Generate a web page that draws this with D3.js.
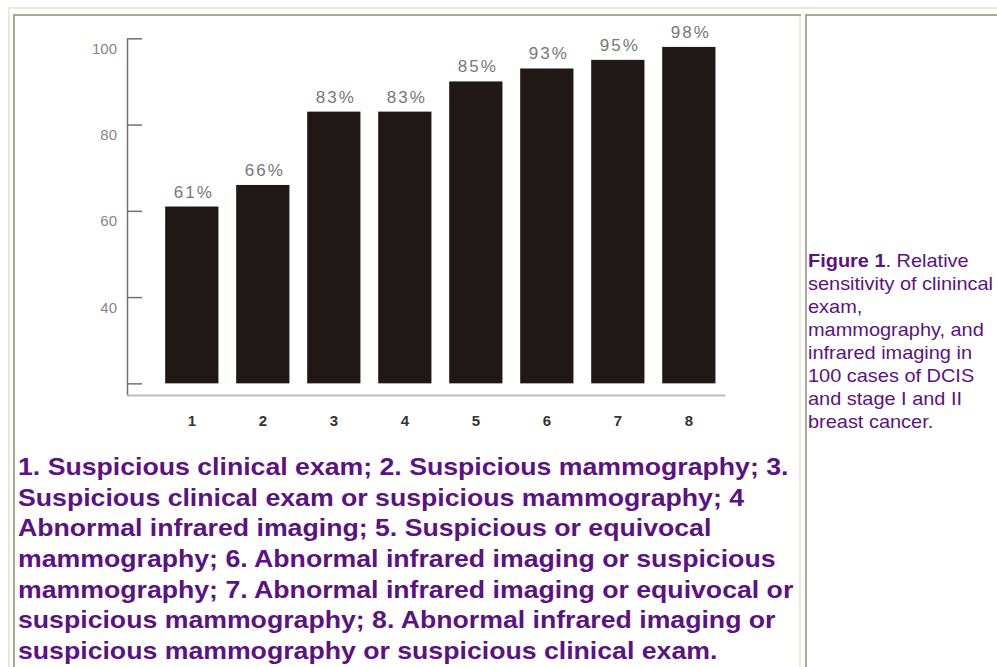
<!DOCTYPE html>
<html>
<head>
<meta charset="utf-8">
<script src="https://cdn.jsdelivr.net/npm/d3@7"></script>
<style>
body { margin: 0; background: #fff; }
svg { display: block; font-family: "Liberation Sans", Arial, sans-serif; }
</style>
</head>
<body>
<svg id="page" width="997" height="667"></svg>
<script>
var CATEGORIES = ['1', '2', '3', '4', '5', '6', '7', '8'];
var VALUES = [61, 66, 83, 83, 90, 93, 95, 98];
var VALUE_LABELS = ['61%', '66%', '83%', '83%', '85%', '93%', '95%', '98%'];
var Y_TICKS = [20, 40, 60, 80, 100];
var BASE = 20;

var LEGEND_LINES = [
  '1. Suspicious clinical exam; 2. Suspicious mammography; 3.',
  'Suspicious clinical exam or suspicious mammography; 4',
  'Abnormal infrared imaging; 5. Suspicious or equivocal',
  'mammography; 6. Abnormal infrared imaging or suspicious',
  'mammography; 7. Abnormal infrared imaging or equivocal or',
  'suspicious mammography; 8. Abnormal infrared imaging or',
  'suspicious mammography or suspicious clinical exam.'
];
var CAPTION_TITLE = 'Figure 1';
var CAPTION_LINES = [
  '. Relative',
  'sensitivity of clinincal',
  'exam,',
  'mammography, and',
  'infrared imaging in',
  '100 cases of DCIS',
  'and stage I and II',
  'breast cancer.'
];

var PURPLE = '#5b1283';
var DARK_BORDER = '#aca899';
var LIGHT_BORDER = '#ece9d8';

var svg = d3.select('#page');

// table borders (outset table, inset cells)
function hline(x1, x2, y, color) {
  svg.append('rect').attr('x', x1).attr('y', y).attr('width', x2 - x1).attr('height', 2).attr('fill', color);
}
function vline(x, y1, y2, color) {
  svg.append('rect').attr('x', x).attr('y', y1).attr('width', 2).attr('height', y2 - y1).attr('fill', color);
}
hline(8, 997, 7, LIGHT_BORDER);
vline(8, 7, 667, LIGHT_BORDER);
hline(13, 801, 14, DARK_BORDER);
vline(13, 14, 667, DARK_BORDER);
vline(799, 16, 667, LIGHT_BORDER);
hline(805, 997, 14, DARK_BORDER);
vline(805, 14, 667, DARK_BORDER);

// chart
var x = d3.scaleBand()
  .domain(CATEGORIES)
  .range([127, 725])
  .paddingInner(0.25)
  .paddingOuter(0.336)
  .align(0.8);

var y = d3.scaleLinear()
  .domain([17.3, 100])
  .range([395, 38.3]);

var chart = svg.append('g');

chart.selectAll('.bar')
  .data(VALUES)
  .enter().append('rect')
  .attr('class', 'bar')
  .attr('x', function (d, i) { return x(CATEGORIES[i]); })
  .attr('y', function (d) { return y(d); })
  .attr('width', x.bandwidth())
  .attr('height', function (d) { return y(BASE) - y(d); })
  .attr('fill', '#201817');

chart.selectAll('.pct')
  .data(VALUES)
  .enter().append('text')
  .attr('class', 'pct')
  .attr('x', function (d, i) { return x(CATEGORIES[i]) + x.bandwidth() / 2 + 2; })
  .attr('y', function (d) { return y(d) - 9; })
  .attr('text-anchor', 'middle')
  .attr('font-size', 17)
  .attr('letter-spacing', 2)
  .attr('fill', '#7a7676')
  .text(function (d, i) { return VALUE_LABELS[i]; });

var yAxis = chart.append('g')
  .attr('transform', 'translate(' + x.range()[0] + ',0)')
  .call(d3.axisLeft(y)
    .tickValues(Y_TICKS)
    .tickSizeInner(-15)
    .tickSizeOuter(0)
    .tickPadding(10)
    .tickFormat(function (d) { return d === BASE ? '' : d; }));

yAxis.select('.domain').attr('stroke', '#776e6e').attr('stroke-width', 1.5);
yAxis.selectAll('.tick line').attr('stroke', '#776e6e').attr('stroke-width', 1.5);
yAxis.selectAll('.tick text')
  .attr('font-size', 15)
  .attr('font-family', '"Liberation Sans", Arial, sans-serif')
  .attr('fill', '#8a8484')
  .attr('dy', '1em');

var xAxis = chart.append('g')
  .attr('transform', 'translate(0,' + y.range()[0] + ')')
  .call(d3.axisBottom(x).tickSize(0).tickPadding(20));

xAxis.select('.domain').attr('stroke', '#bdbaba').attr('stroke-width', 2);
xAxis.selectAll('.tick text')
  .attr('font-size', 15)
  .attr('font-weight', 'bold')
  .attr('font-family', '"Liberation Sans", Arial, sans-serif')
  .attr('fill', '#333');

// legend under the chart
var legend = svg.append('g')
  .attr('transform', 'translate(18,475) scale(1.135,1)');

legend.selectAll('text')
  .data(LEGEND_LINES)
  .enter().append('text')
  .attr('x', 0)
  .attr('y', function (d, i) { return i * 30.67; })
  .attr('font-size', 23.5)
  .attr('font-weight', 'bold')
  .attr('fill', PURPLE)
  .text(function (d) { return d; });

// figure caption in right cell
var caption = svg.append('g')
  .attr('transform', 'translate(808,267.3) scale(1.14,1)');

caption.selectAll('text')
  .data(CAPTION_LINES)
  .enter().append('text')
  .attr('x', 0)
  .attr('y', function (d, i) { return i * 23; })
  .attr('font-size', 17.5)
  .attr('fill', PURPLE)
  .each(function (d, i) {
    var t = d3.select(this);
    if (i === 0) {
      t.append('tspan').attr('font-weight', 'bold').text(CAPTION_TITLE);
    }
    t.append('tspan').text(d);
  });
</script>
</body>
</html>
